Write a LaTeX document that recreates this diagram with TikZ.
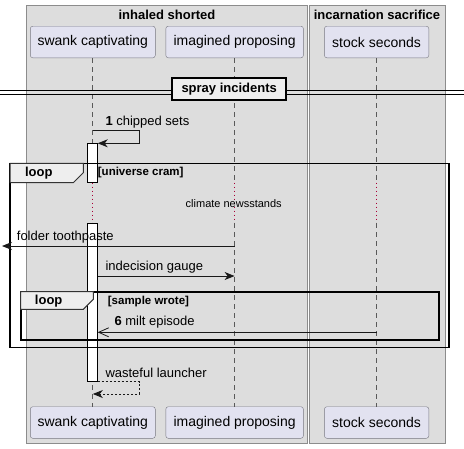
\documentclass[tikz,border=0pt]{standalone}
\usepackage{fontspec}
\setmainfont{Liberation Sans}
\usetikzlibrary{calc,arrows.meta}
\definecolor{boxgray}{RGB}{221,221,221}
\definecolor{boxline}{RGB}{140,140,140}
\definecolor{partfill}{RGB}{226,226,240}
\definecolor{partline}{RGB}{120,120,130}
\definecolor{tabfill}{RGB}{238,238,238}
\definecolor{delayred}{RGB}{168,0,54}
\newcommand*{\actl  }{87.7}
\newcommand*{\actr  }{97.7}
\newcommand*{\dlytop}{182.7}
\newcommand*{\dlybot}{223.3}
\tikzset{
	groupbox/.style={
		fill = boxgray,
		draw = boxline,
		line width = 1pt,
		},
	grouptitle/.style={
		font = \fontsize{13}{15}\selectfont\bfseries,
		inner sep = 0pt,
		},
	part/.style={
		rectangle,
		rounded corners = 2.5pt,
		minimum width = #1,
		minimum height = 31.6pt,
		fill = partfill,
		draw = partline,
		font = \fontsize{14}{16}\selectfont,
		},
	lifeline/.style={
		draw = gray!70!black,
		line width = 0.8pt,
		dash pattern = on 5pt off 4pt,
		},
	delayline/.style={
		draw = delayred,
		line width = 0.8pt,
		dash pattern = on 1pt off 3pt,
		},
	actbar/.style={
		fill = white,
		draw = black,
		line width = 1pt,
		},
	msg/.style={
		draw = black!90,
		line width = 1pt,
		},
	msglabel/.style={
		anchor = west,
		inner sep = 0pt,
		font = \fontsize{13}{15}\selectfont,
		},
	frame/.style={
		draw = black,
		line width = 1.6pt,
		},
	tab/.style={
		fill = tabfill,
		draw = black!80,
		line width = 1pt,
		},
	tabtext/.style={
		inner sep = 0pt,
		font = \fontsize{13}{15}\selectfont\bfseries,
		},
	guard/.style={
		anchor = west,
		inner sep = 0pt,
		font = \fontsize{11.5}{13}\selectfont\bfseries,
		},
	}

\begin{document}
\begin{tikzpicture}[x=1pt, y=-1pt,
	>={Stealth[length=10pt, width=8pt, inset=3pt]}]
	\useasboundingbox (0,0) rectangle (464,448);
	% the two boxes
	\draw [groupbox] (26.7,5) rectangle (307,443);
	\draw [groupbox] (309,5) rectangle (445,443);
	\node (gInhaled) [grouptitle] at (167,14.7) {inhaled shorted};
	\node (gIncarn)  [grouptitle] at (377,14.7) {incarnation sacrifice};
	% participants and their lifelines
	\foreach \n/\x/\w/\t in {1/92.8/125/swank captivating,
	                         2/234.6/137.6/imagined proposing,
	                         3/376.6/104.4/stock seconds} {
		\node (top\n) [part=\w] at (\x,42)    {\t};
		\node (bot\n) [part=\w] at (\x,422.5) {\t};
		\coordinate (dA\n) at (top\n.south |- 0,\dlytop);
		\coordinate (dB\n) at (top\n.south |- 0,\dlybot);
		\draw [lifeline]  (top\n.south) -- (dA\n);
		\draw [delayline] (dA\n) -- (dB\n);
		\draw [lifeline]  (dB\n) -- (bot\n.north);
	};
	% divider
	\coordinate (dvL) at (0,90);
	\coordinate (dvR) at (464,90);
	\draw [line width=1pt] (dvL) -- (dvR);
	\draw [line width=1pt] ($(dvL)+(0,4)$) -- ($(dvR)+(0,4)$);
	\node (divider) [fill=tabfill, draw=black, line width=2pt, minimum width=113.7pt,
		minimum height=22pt, font=\fontsize{13}{15}\selectfont\bfseries] at (229.2,89) {spray incidents};
	% activation of swank captivating
	\draw [actbar] (\actl,143.3) rectangle (\actr,\dlytop);
	\draw [actbar] (\actl,\dlybot) rectangle (\actr,381.7);
	% message 1, to itself
	\coordinate (m1a) at (top1.south |- 0,130.7);
	\coordinate (m1b) at (\actr,143.3);
	\draw [msg,->] (m1a) -- ++(47,0) |- (m1b);
	\node (l1) [msglabel] at (105.3,121.7) {\textbf{1} chipped sets};
	% outer loop
	\draw [frame] (10,163.3) rectangle (448.7,347.3);
	\draw [tab] (10,163.3) -- (83.3,163.3) -- (83.3,172.7) -- (73.3,182.7) -- (10,182.7) -- cycle;
	\node (loopA) [tabtext] at (38.8,173.2) {loop};
	\node (guardA) [guard] at (97.7,172.7) {[universe cram]};
	\node (delay) [inner sep=0pt, font=\fontsize{11}{13}\selectfont] at (233.7,203.3) {climate newsstands};
	% lost message to the left
	\coordinate (m2a) at (top2.south |- 0,246);
	\coordinate (m2b) at (2,246);
	\draw [msg,->] (m2a) -- (m2b);
	\node (l2) [msglabel] at (16.7,236.7) {folder toothpaste};
	% message 3
	\coordinate (m3a) at (\actr,276);
	\coordinate (m3b) at (top2.south |- 0,276);
	\draw [msg,->] (m3a) -- (m3b);
	\node (l3) [msglabel] at (105.3,267.3) {indecision gauge};
	% inner loop
	\draw [frame] (20.7,291.7) rectangle (438.7,340);
	\draw [tab] (20.7,291.7) -- (93.3,291.7) -- (93.3,299.3) -- (83.3,309.3) -- (20.7,309.3) -- cycle;
	\node (loopB) [tabtext] at (48.7,301.5) {loop};
	\node (guardB) [guard] at (107.7,301.7) {[sample wrote]};
	\coordinate (m6a) at (top3.south |- 0,332.3);
	\coordinate (m6b) at (\actr,332.3);
	\draw [msg,-{Straight Barb[length=10pt, width=9pt, line width=0.8pt]}] (m6a) -- (m6b);
	\node (l6) [msglabel] at (114.3,322.3) {\textbf{6} milt episode};
	% reply to itself
	\coordinate (m7a) at (\actr,381.7);
	\coordinate (m7b) at (top1.south |- 0,394);
	\draw [msg, dash pattern=on 2pt off 2pt, ->] (m7a) -- (139.3,381.7) |- (m7b);
	\node (l7) [msglabel] at (105.3,372.7) {wasteful launcher};
\end{tikzpicture}
\end{document}
